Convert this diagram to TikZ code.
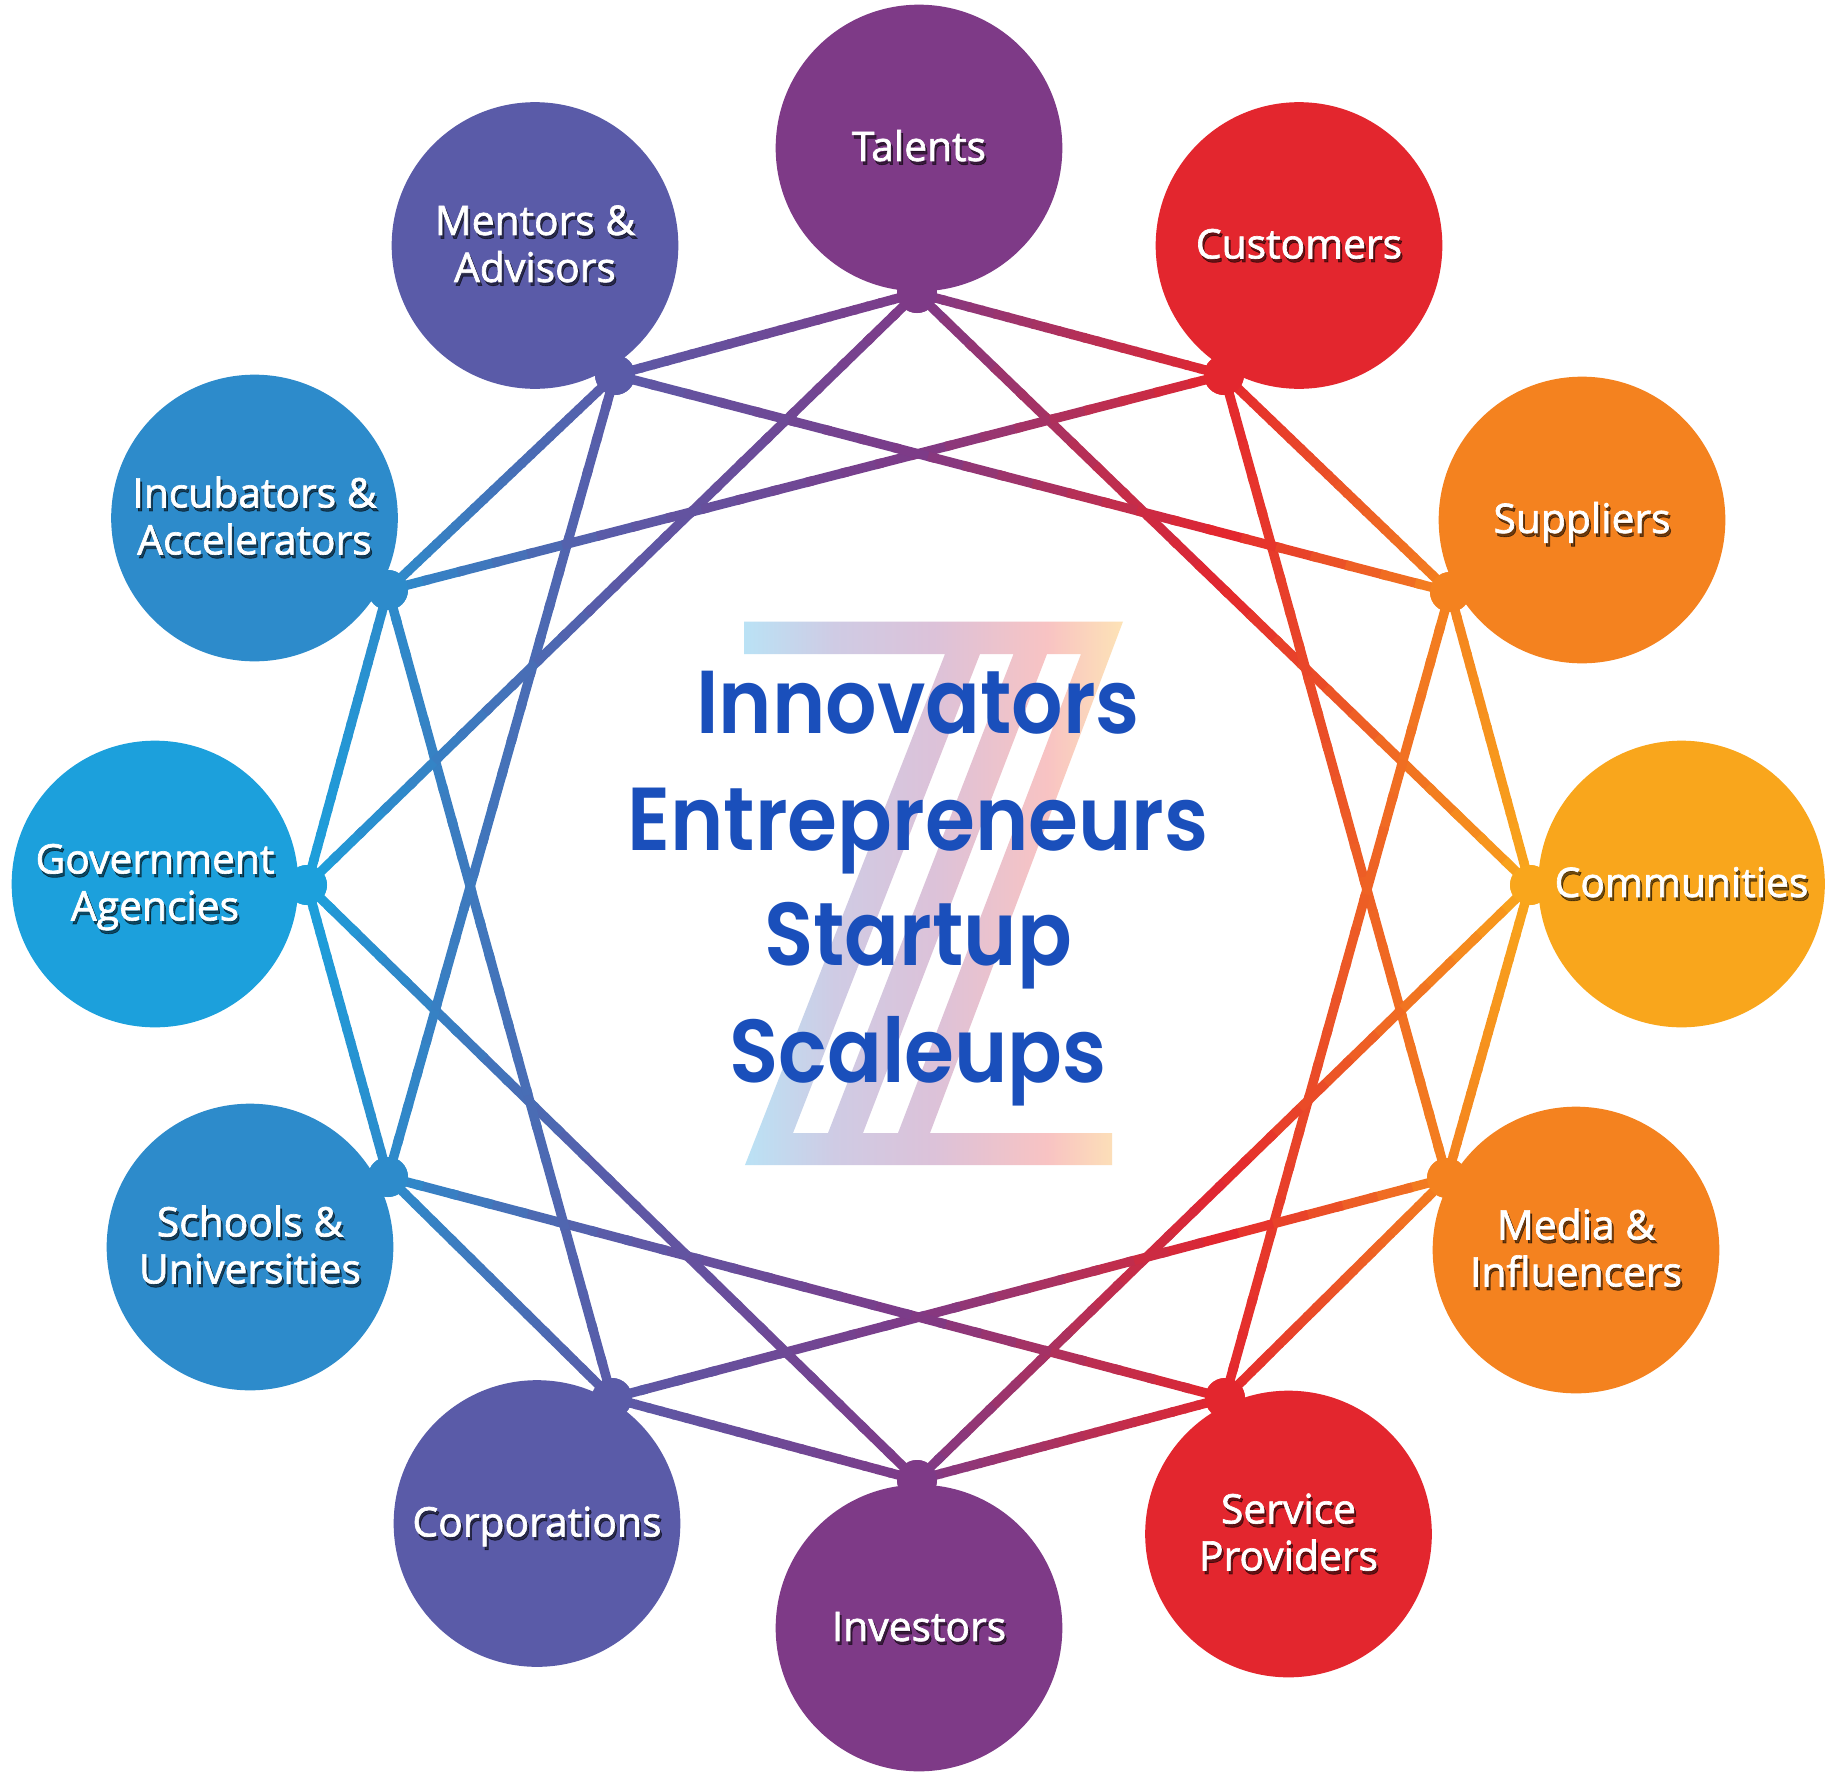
\documentclass[tikz,border=0pt]{standalone}
\usepackage{fontspec}
\usetikzlibrary{calc}
\newfontfamily\labfont{Open Sans}[FakeBold=1.6]
\newfontfamily\ttlfont{Poppins SemiBold}[FakeStretch=0.905]
\definecolor{cGov}{HTML}{1CA0DC}
\definecolor{cSch}{HTML}{2D8BCB}
\definecolor{cMen}{HTML}{5A5BA8}
\definecolor{cTal}{HTML}{7E3A87}
\definecolor{cCus}{HTML}{E3262E}
\definecolor{cSup}{HTML}{F4821F}
\definecolor{cCom}{HTML}{F9A61C}
\definecolor{cTitle}{HTML}{1A4FBB}
\definecolor{zA}{HTML}{BAE2F5}
\definecolor{zB}{HTML}{CFCBE4}
\definecolor{zC}{HTML}{DCC2D9}
\definecolor{zD}{HTML}{F8C3C3}
\definecolor{zE}{HTML}{FDE3B6}
\pgfdeclarehorizontalshading{zgrad}{100bp}{color(0bp)=(zA); color(25bp)=(zA); color(37bp)=(zB); color(50bp)=(zC); color(65bp)=(zD); color(75bp)=(zE); color(100bp)=(zE)}
\tikzset{
  x=0.75pt,y=-0.75pt,
  bub/.style={circle,minimum size=215pt,inner sep=0pt,outer sep=0pt,text=white,align=center,
     font=\labfont\fontsize{30.6pt}{35.25pt}\selectfont},
  hubdot/.style={circle,minimum size=30pt,inner sep=0pt,outer sep=0pt},
  shad/.style={inner sep=0pt,align=center,text=black,text opacity=0.55,font=\labfont\fontsize{30.6pt}{35.25pt}\selectfont},
  link/.style={line width=7.1pt,line cap=butt},
  ttl/.style={anchor=base,inner sep=0pt,text=cTitle,font=\ttlfont\fontsize{67pt}{90pt}\selectfont}
}
\newcommand\ls{\rule[-7.9pt]{0pt}{35.25pt}}
\newcommand\mixc[4]{\pgfmathtruncatemacro\pc{(#2-\gx)/(#2-#1)*100}\colorlet{segc}{#3!\pc!#4}}
\newcommand\setgrad{%
  \ifdim\gx pt<388pt \mixc{307}{388}{cGov}{cSch}\else
  \ifdim\gx pt<612pt \mixc{388}{612}{cSch}{cMen}\else
  \ifdim\gx pt<917pt \mixc{612}{917}{cMen}{cTal}\else
  \ifdim\gx pt<1224pt \mixc{917}{1224}{cTal}{cCus}\else
  \ifdim\gx pt<1450pt \mixc{1224}{1450}{cCus}{cSup}\else
  \mixc{1450}{1530}{cSup}{cCom}\fi\fi\fi\fi\fi}
\newcommand\nseg{24}
\newcommand\conn[2]{%
  \pgfpointanchor{#1}{center}\pgfgetlastxy\ax\ay
  \pgfpointanchor{#2}{center}\pgfgetlastxy\bx\by
  \foreach \i in {1,...,\nseg}{%
    \pgfmathsetmacro\tA{(\i-1)/\nseg}%
    \pgfmathsetmacro\tB{min(1,(\i+0.2)/\nseg)}%
    \pgfmathsetmacro\gx{max(307,min(1530,(\ax+(\bx-\ax)*(\i-0.5)/\nseg)/0.75))}%
    \setgrad
    \draw[link,draw=segc] ($(#1.center)!\tA!(#2.center)$) -- ($(#1.center)!\tB!(#2.center)$);
  }}
\newcommand\bubble[5]{%
  \node[bub,fill=#4,path picture={
     \node[shad] at ($(path picture bounding box.center)+(2,3.5)$) {#5};
  }] (#1) at (#2,#3) {#5};}
\begin{document}
\begin{tikzpicture}
\useasboundingbox (0,0) rectangle (1840,1781);
\fill[white] (0,0) rectangle (1840,1781);
% central Z mark
\shade[shading=zgrad,even odd rule]
  (744,621.5) -- (1123,621.5) -- (930,1133) -- (1112,1133) -- (1112,1165) -- (745,1165) -- (945,654) -- (744,654) -- cycle
  (980,654) -- (1013.5,654) -- (828,1133) -- (793,1133) -- cycle
  (1047,654) -- (1081,654) -- (898,1133) -- (863,1133) -- cycle;
% hubs
\node[hubdot,fill=cTal] (h0) at (917,293) {};
\node[hubdot,fill=cCus] (h1) at (1224,375) {};
\node[hubdot,fill=cSup] (h2) at (1450,592) {};
\node[hubdot,fill=cCom] (h3) at (1530,885) {};
\node[hubdot,fill=cSup] (h4) at (1447,1178) {};
\node[hubdot,fill=cCus] (h5) at (1225,1398) {};
\node[hubdot,fill=cTal] (h6) at (917,1480) {};
\node[hubdot,fill=cMen] (h7) at (612,1398) {};
\node[hubdot,fill=cSch] (h8) at (388,1177) {};
\node[hubdot,fill=cGov] (h9) at (307,885) {};
\node[hubdot,fill=cSch] (h10) at (388,590) {};
\node[hubdot,fill=cMen] (h11) at (615,375) {};
% connectors
\conn{h0}{h1}\conn{h1}{h2}\conn{h2}{h3}\conn{h3}{h4}\conn{h4}{h5}\conn{h5}{h6}
\conn{h6}{h7}\conn{h7}{h8}\conn{h8}{h9}\conn{h9}{h10}\conn{h10}{h11}\conn{h11}{h0}
\conn{h0}{h3}\conn{h1}{h4}\conn{h2}{h5}\conn{h3}{h6}\conn{h4}{h7}\conn{h5}{h8}
\conn{h6}{h9}\conn{h7}{h10}\conn{h8}{h11}\conn{h9}{h0}\conn{h10}{h1}\conn{h11}{h2}
% hub dots again above the line ends
\foreach \n/\c/\px/\py in {d0/cTal/917/293,d1/cCus/1224/375,d2/cSup/1450/592,d3/cCom/1530/885,d4/cSup/1447/1178,d5/cCus/1225/1398,d6/cTal/917/1480,d7/cMen/612/1398,d8/cSch/388/1177,d9/cGov/307/885,d10/cSch/388/590,d11/cMen/615/375}
  \node[hubdot,fill=\c] (\n) at (\px,\py) {};
% circles
\bubble{talents}{919}{148}{cTal}{\ls Talents}
\bubble{customers}{1299}{245.5}{cCus}{\ls Customers}
\bubble{suppliers}{1582}{520}{cSup}{\ls Suppliers}
\bubble{communities}{1681.5}{884}{cCom}{\ls Communities}
\bubble{media}{1576}{1250}{cSup}{\ls Media \&\\\ls Influencers}
\bubble{service}{1288.5}{1534}{cCus}{\ls Service\\\ls Providers}
\bubble{investors}{919}{1628}{cTal}{\ls Investors}
\bubble{corporations}{537}{1523.5}{cMen}{\ls Corporations}
\bubble{schools}{250}{1247}{cSch}{\ls Schools \&\\\ls Universities}
\bubble{government}{155}{884}{cGov}{\ls Government\\\ls Agencies}
\bubble{incubators}{254.5}{518}{cSch}{\ls Incubators \&\\\ls Accelerators}
\bubble{mentors}{535}{245.5}{cMen}{\ls Mentors \&\\\ls Advisors}
% title
\node[ttl] (t1) at (918,733) {Innovators};
\node[ttl] (t2) at (918,850) {Entrepreneurs};
\node[ttl] (t3) at (918,965.5) {Startup};
\node[ttl] (t4) at (918,1082) {Scaleups};
\end{tikzpicture}
\end{document}
